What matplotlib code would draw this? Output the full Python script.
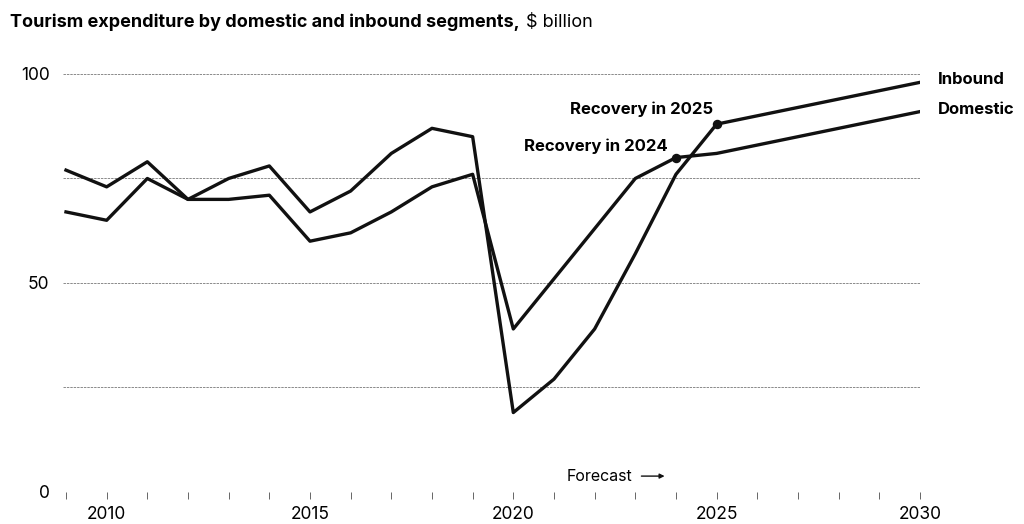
import matplotlib.pyplot as plt

plt.rcParams["font.family"] = ["Inter", "DejaVu Sans"]

years = list(range(2009, 2031))
inbound = [77, 73, 79, 70, 75, 78, 67, 72, 81, 87, 85,
           19, 27, 39, 57, 76, 88, 90, 92, 94, 96, 98]
domestic = [67, 65, 75, 70, 70, 71, 60, 62, 67, 73, 76,
            39, 51, 63, 75, 80, 81, 83, 85, 87, 89, 91]

y_grid = [25, 50, 75, 100]
y_labels = [0, 50, 100]
x_labels = [2010, 2015, 2020, 2025, 2030]

# (label, year, value, text offset in points)
recoveries = [("Recovery in 2025", 2025, inbound[years.index(2025)], (-2.5, 11)),
              ("Recovery in 2024", 2024, domestic[years.index(2024)], (-6, 8.5))]

fig = plt.figure(figsize=(10.24, 5.24), dpi=100)
ax = fig.add_axes([0.0565, 0.0611, 0.8419, 0.7977])
ax.set_xlim(2008.8, 2030)
ax.set_ylim(0, 100)

for v in y_grid:
    ax.axhline(v, xmin=0.006, color="#8a8a8a", lw=0.7, ls=(0, (2.5, 1)), zorder=1)
ax.axhline(0, color="#a0a0a0", lw=0.7, ls=(0, (1.5, 2.5)), zorder=1)

ax.plot(years, inbound, color="#111111", lw=2.4, zorder=3)
ax.plot(years, domestic, color="#111111", lw=2.4, zorder=3)

for text, yr, val, off in recoveries:
    ax.plot(yr, val, "o", color="#111111", ms=5.8, zorder=4)
    ax.annotate(text, (yr, val), xytext=off, textcoords="offset points",
                ha="right", va="center", fontsize=12, fontweight="bold")

ax.annotate("Inbound", (years[-1], inbound[-1]), xytext=(13, 2),
            textcoords="offset points", ha="left", va="center",
            fontsize=12, fontweight="bold", annotation_clip=False)
ax.annotate("Domestic", (years[-1], domestic[-1]), xytext=(13, 1.5),
            textcoords="offset points", ha="left", va="center",
            fontsize=12, fontweight="bold", annotation_clip=False)

ax.text(2021.3, 3.8, "Forecast", fontsize=11.5, ha="left", va="center")
ax.annotate("", xy=(2023.72, 3.8), xytext=(2023.15, 3.8),
            arrowprops=dict(arrowstyle="-|>", color="#111111", lw=1.0,
                            mutation_scale=7, shrinkA=0, shrinkB=0))

ax.set_xticks(years)
ax.set_xticklabels([str(y) if y in x_labels else "" for y in years])
ax.set_yticks(y_labels)
ax.tick_params(axis="x", length=5, width=0.7, color="#666666", pad=5,
               labelsize=12.5, direction="out")
ax.tick_params(axis="y", length=0, pad=6, labelsize=12.5)
for s in ax.spines.values():
    s.set_visible(False)

title = fig.text(0.0098, 0.958, "Tourism expenditure by domestic and inbound segments,",
                 fontsize=13, fontweight="bold", va="center", ha="left")
fig.canvas.draw()
bb = title.get_window_extent()
fig.text((bb.x1 + 6) / fig.bbox.width, 0.958, "$ billion",
         fontsize=13, va="center", ha="left")

fig.savefig("out.png", dpi=100, facecolor="white")
